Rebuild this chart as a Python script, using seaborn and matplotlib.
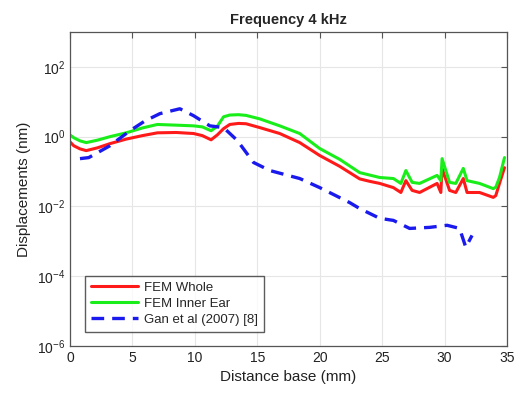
import numpy as np
import pandas as pd
import matplotlib
matplotlib.use("Agg")
import matplotlib.pyplot as plt
import seaborn as sns

# Data (log10 of displacement in nm)
whole_x = [0.0, 0.3, 0.8, 1.3, 2.2, 3.2, 4.5, 5.8, 7.0, 8.5, 9.9, 10.6, 11.3, 11.8, 12.3, 12.8, 13.5, 14.1, 15.2, 16.8, 18.4, 20.0, 21.6, 23.2, 24.0, 24.8, 25.9, 26.5, 26.9, 27.4, 28.0, 29.4, 29.7, 29.8, 30.4, 30.9, 31.5, 31.8, 32.8, 33.9, 34.1, 34.4, 34.8]
whole_log = [-0.15, -0.26, -0.35, -0.40, -0.32, -0.20, -0.07, 0.03, 0.11, 0.12, 0.09, 0.03, -0.09, 0.05, 0.23, 0.35, 0.38, 0.37, 0.26, 0.09, -0.17, -0.54, -0.85, -1.21, -1.28, -1.34, -1.46, -1.60, -1.26, -1.54, -1.60, -1.34, -1.60, -0.91, -1.54, -1.60, -1.20, -1.60, -1.60, -1.74, -1.69, -1.34, -0.89]

inner_x = whole_x
inner_log = [0.05, -0.03, -0.12, -0.17, -0.10, 0.00, 0.11, 0.25, 0.35, 0.33, 0.31, 0.28, 0.17, 0.30, 0.57, 0.62, 0.63, 0.61, 0.51, 0.31, 0.09, -0.34, -0.65, -1.03, -1.10, -1.17, -1.20, -1.34, -0.97, -1.31, -1.34, -1.11, -1.26, -0.63, -1.31, -1.34, -0.91, -1.26, -1.34, -1.49, -1.45, -1.17, -0.60]

gan_x = [0.8, 1.5, 3.2, 4.8, 6.0, 7.2, 8.8, 9.9, 11.2, 12.3, 13.4, 14.7, 16.0, 18.4, 20.0, 22.4, 23.2, 24.8, 25.9, 27.2, 28.8, 30.2, 31.2, 31.7, 32.2]
gan_log = [-0.63, -0.60, -0.26, 0.17, 0.45, 0.66, 0.80, 0.60, 0.31, 0.26, -0.11, -0.74, -0.97, -1.20, -1.46, -1.89, -2.06, -2.34, -2.40, -2.63, -2.60, -2.54, -2.63, -3.17, -2.83]

labels = ["FEM Whole", "FEM Inner Ear", "Gan et al (2007) [8]"]
x_ticks = [0, 5, 10, 15, 20, 25, 30, 35]
y_ticks = [1e-6, 1e-4, 1e-2, 1e0, 1e2]

sns.set_style("white")
plt.rcParams['font.family'] = ['Liberation Sans', 'DejaVu Sans']

fig = plt.figure(figsize=(5.31, 3.94), dpi=100)
ax = fig.add_axes([70/531, 1-346/394, 437/531, 314/394])

df_w = pd.DataFrame({"x": whole_x, "y": 10**np.array(whole_log)})
df_i = pd.DataFrame({"x": inner_x, "y": 10**np.array(inner_log)})
df_g = pd.DataFrame({"x": gan_x, "y": 10**np.array(gan_log)})

sns.lineplot(data=df_w, x="x", y="y", ax=ax, color="#ff1a1a", lw=2.2, label=labels[0], sort=False)
sns.lineplot(data=df_i, x="x", y="y", ax=ax, color="#1aee1a", lw=2.2, label=labels[1], sort=False)
sns.lineplot(data=df_g, x="x", y="y", ax=ax, color="#1a1aee", lw=2.4, label=labels[2], sort=False)
ax.lines[-1].set_dashes([3.8, 2.4])

ax.set_yscale("log")
ax.set_xlim(0, 35)
ax.set_ylim(1e-6, 1e3)
ax.set_xticks(x_ticks)
ax.set_yticks(y_ticks)
ax.yaxis.set_minor_locator(matplotlib.ticker.NullLocator())
ax.grid(True, color="#e6e6e6", lw=0.8)
ax.tick_params(direction="in", length=4, color="#555555", labelsize=10, top=True, right=True, labelcolor="#222222")
for s in ax.spines.values():
    s.set_color("#555555")
    s.set_linewidth(0.9)

ax.set_title("Frequency 4 kHz", fontsize=10.5, fontweight="bold", pad=6)
ax.set_xlabel("Distance base (mm)", fontsize=11, color="#222222")
ax.set_ylabel("Displacements (nm)", fontsize=11, color="#222222")

leg = ax.legend(loc="lower left", bbox_to_anchor=(15/437, 14/314), borderaxespad=0, fontsize=9.5,
                frameon=True, fancybox=False, edgecolor="#333333", handlelength=3.6, borderpad=0.45,
                labelspacing=0.3, handletextpad=0.4)
leg.get_frame().set_linewidth(1.0)

fig.savefig("out.png", dpi=100)
